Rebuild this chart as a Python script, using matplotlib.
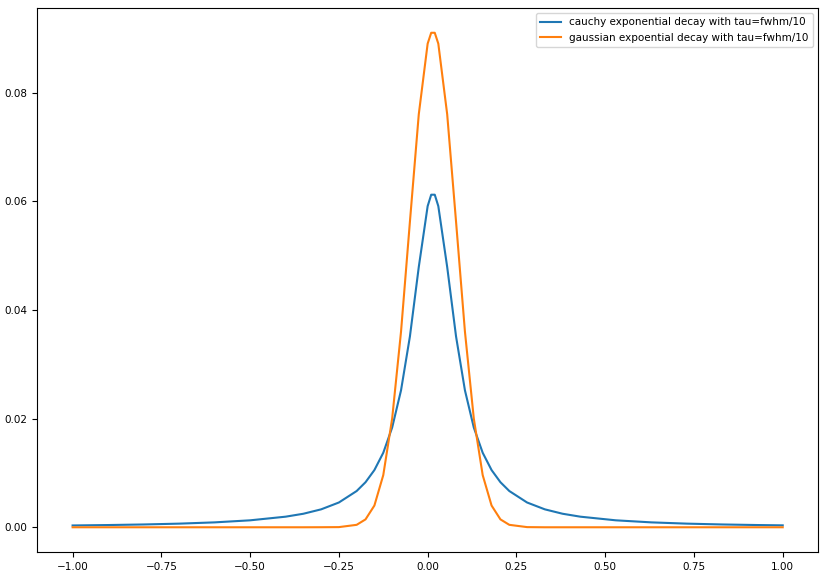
import matplotlib.pyplot as plt
import numpy as np

plt.rcParams['font.size'] = 7.5

# values
x = [-1.0, -0.9, -0.8, -0.7, -0.6, -0.5, -0.4, -0.35, -0.3, -0.25, -0.2,
     -0.175, -0.15, -0.125, -0.1, -0.075, -0.05, -0.025, 0.0, 0.01, 0.02,
     0.03, 0.055, 0.08, 0.105, 0.13, 0.155, 0.18, 0.205, 0.23, 0.28, 0.33,
     0.38, 0.43, 0.53, 0.63, 0.73, 0.83, 0.93, 1.0]
cauchy = [0.000334, 0.000411, 0.000517, 0.000669, 0.000902, 0.00128, 0.00195,
          0.00249, 0.00330, 0.00456, 0.00667, 0.00829, 0.01053, 0.01371,
          0.01835, 0.0252, 0.0351, 0.0479, 0.0591, 0.0612, 0.0612, 0.0591,
          0.0479, 0.0351, 0.0252, 0.01835, 0.01371, 0.01053, 0.00829,
          0.00667, 0.00456, 0.00330, 0.00249, 0.00195, 0.00128, 0.000902,
          0.000669, 0.000517, 0.000411, 0.000354]
gauss = [0.0, 0.0, 0.0, 0.0, 0.0, 0.0, 0.0, 0.0, 0.00001, 0.00003, 0.00045,
         0.00145, 0.0040, 0.0096, 0.0200, 0.0360, 0.0562, 0.0760, 0.0890,
         0.0910, 0.0910, 0.0890, 0.0760, 0.0562, 0.0360, 0.0200, 0.0096,
         0.0040, 0.00145, 0.00045, 0.00003, 0.0, 0.0, 0.0, 0.0, 0.0, 0.0,
         0.0, 0.0, 0.0]

fig, ax = plt.subplots(figsize=(8.24, 5.75), dpi=100)
ax.plot(x, cauchy, label="cauchy exponential decay with tau=fwhm/10")
ax.plot(x, gauss, label="gaussian expoential decay with tau=fwhm/10")
ax.legend(loc="upper right")
plt.subplots_adjust(left=0.045, right=0.993, top=0.986, bottom=0.04)
plt.savefig("out.png")
